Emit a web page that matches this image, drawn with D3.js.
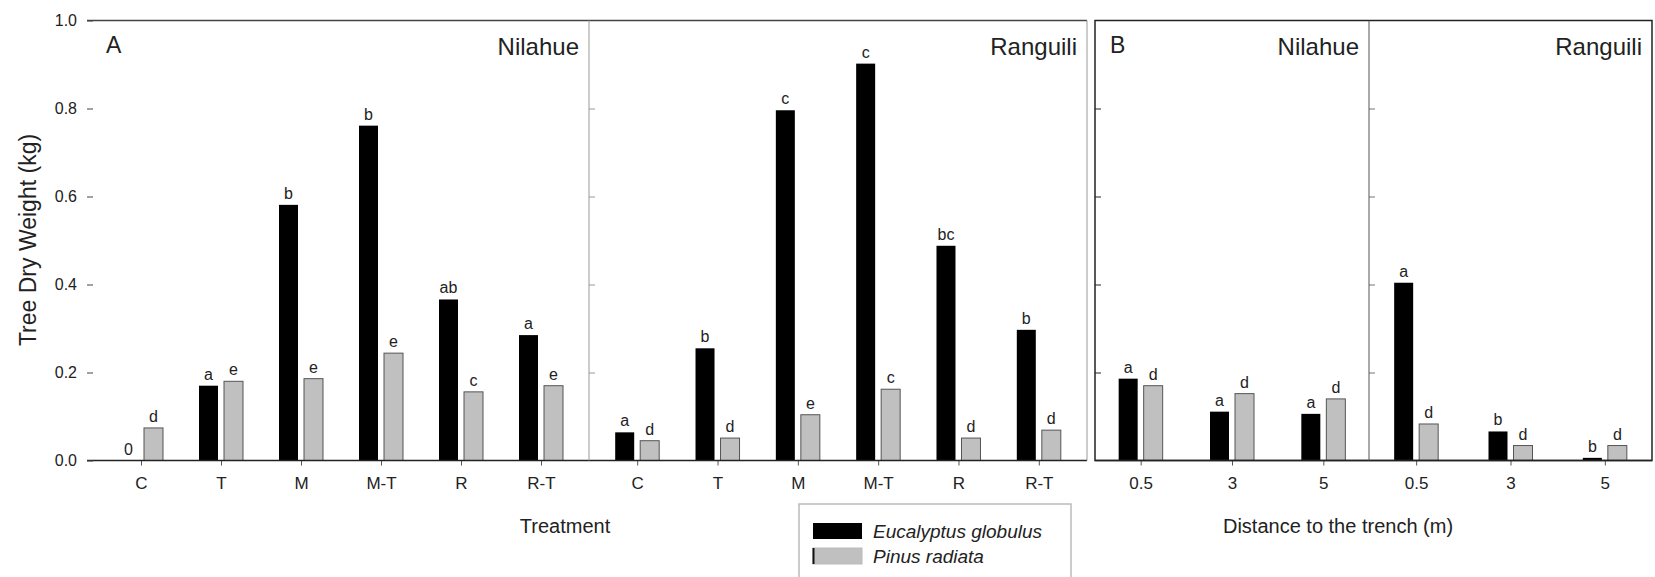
<!DOCTYPE html>
<html>
<head>
<meta charset="utf-8">
<script src="https://cdn.jsdelivr.net/npm/d3@7"></script>
<style>
    body { margin: 0; background: #fff; }
    text { font-family: "Liberation Sans", Arial, sans-serif; fill: #222; }
</style>
</head>
<body>
<div id="chart"></div>
<script>
// categories
const treatments = ["C", "T", "M", "M-T", "R", "R-T"];
const distances = ["0.5", "3", "5"];
const yTicks = [0, 0.2, 0.4, 0.6, 0.8, 1.0];

// panel A: tree dry weight (kg) by treatment
const eucTreatNilahue = [0, 0.170, 0.581, 0.761, 0.366, 0.285];
const pinTreatNilahue = [0.074, 0.180, 0.186, 0.244, 0.156, 0.170];
const eucTreatRanguili = [0.064, 0.255, 0.796, 0.902, 0.488, 0.297];
const pinTreatRanguili = [0.045, 0.051, 0.104, 0.162, 0.051, 0.069];

const eucTreatNilahueLetters = ["0", "a", "b", "b", "ab", "a"];
const pinTreatNilahueLetters = ["d", "e", "e", "e", "c", "e"];
const eucTreatRanguiliLetters = ["a", "b", "c", "c", "bc", "b"];
const pinTreatRanguiliLetters = ["d", "d", "e", "c", "d", "d"];

// panel B: tree dry weight (kg) by distance to the trench
const eucDistNilahue = [0.186, 0.111, 0.106];
const pinDistNilahue = [0.170, 0.152, 0.140];
const eucDistRanguili = [0.404, 0.066, 0.006];
const pinDistRanguili = [0.083, 0.034, 0.034];

const eucDistNilahueLetters = ["a", "a", "a"];
const pinDistNilahueLetters = ["d", "d", "d"];
const eucDistRanguiliLetters = ["a", "b", "b"];
const pinDistRanguiliLetters = ["d", "d", "d"];

const species = ["Eucalyptus globulus", "Pinus radiata"];
const colors = ["#000000", "#c0c0c0"];

const W = 1655, H = 577;
const yTop = 20.5, yBase = 460.5;

const svg = d3.select("#chart").append("svg")
    .attr("width", W)
    .attr("height", H);

const y = d3.scaleLinear().domain([0, 1]).range([yBase, yTop]);

// one entry per sub-panel
const panels = [
    {x0: 93, x1: 589, cats: treatments, euc: eucTreatNilahue, pin: pinTreatNilahue,
        eL: eucTreatNilahueLetters, pL: pinTreatNilahueLetters, pad: 0.6, site: "Nilahue"},
    {x0: 589, x1: 1087, cats: treatments, euc: eucTreatRanguili, pin: pinTreatRanguili,
        eL: eucTreatRanguiliLetters, pL: pinTreatRanguiliLetters, pad: 0.6, site: "Ranguili"},
    {x0: 1095, x1: 1369, cats: distances, euc: eucDistNilahue, pin: pinDistNilahue,
        eL: eucDistNilahueLetters, pL: pinDistNilahueLetters, pad: 0.5, site: "Nilahue"},
    {x0: 1369, x1: 1652, cats: distances, euc: eucDistRanguili, pin: pinDistRanguili,
        eL: eucDistRanguiliLetters, pL: pinDistRanguiliLetters, pad: 0.5, site: "Ranguili"}
];

const bw = 19, gap = 6;

panels.forEach((p, i) => {
    let x = d3.scalePoint().domain(p.cats).range([p.x0, p.x1]).padding(p.pad);
    let g = svg.append("g");

    // bars
    g.selectAll(".euc").data(p.cats).enter().append("rect")
        .attr("x", d => x(d) - gap / 2 - bw)
        .attr("y", (d, j) => y(p.euc[j]))
        .attr("width", bw)
        .attr("height", (d, j) => yBase - y(p.euc[j]))
        .attr("fill", colors[0]);

    g.selectAll(".pin").data(p.cats).enter().append("rect")
        .attr("x", d => x(d) + gap / 2)
        .attr("y", (d, j) => y(p.pin[j]))
        .attr("width", bw)
        .attr("height", (d, j) => yBase - y(p.pin[j]))
        .attr("fill", colors[1])
        .attr("stroke", "#555")
        .attr("stroke-width", 1);

    // significance letters
    g.selectAll(".el").data(p.cats).enter().append("text")
        .attr("x", d => x(d) - gap / 2 - bw / 2)
        .attr("y", (d, j) => y(p.euc[j]) - 6)
        .attr("text-anchor", "middle")
        .attr("font-size", 16)
        .text((d, j) => p.eL[j]);

    g.selectAll(".pl").data(p.cats).enter().append("text")
        .attr("x", d => x(d) + gap / 2 + bw / 2)
        .attr("y", (d, j) => y(p.pin[j]) - 6)
        .attr("text-anchor", "middle")
        .attr("font-size", 16)
        .text((d, j) => p.pL[j]);

    // x axis with ticks pointing down
    let xAxis = d3.axisBottom(x).tickSize(5).tickPadding(11);
    let ax = g.append("g")
        .attr("transform", `translate(0, ${yBase})`)
        .call(xAxis);
    ax.select(".domain").remove();
    ax.selectAll(".tick line").attr("stroke", "#555");
    ax.selectAll(".tick text")
        .attr("font-size", 17)
        .attr("fill", "#333")
        .style("font-family", "Liberation Sans, Arial, sans-serif");

    // baseline
    g.append("line")
        .attr("x1", i === 0 ? 87 : p.x0).attr("x2", p.x1)
        .attr("y1", yBase).attr("y2", yBase)
        .attr("stroke", "#222").attr("stroke-width", 1.5);

    // site title
    g.append("text")
        .attr("x", p.x1 - 10)
        .attr("y", 55)
        .attr("text-anchor", "end")
        .attr("font-size", 24)
        .text(p.site);
});

// panel A frame
svg.append("line").attr("x1", 87).attr("x2", 1087).attr("y1", yTop).attr("y2", yTop)
    .attr("stroke", "#444").attr("stroke-width", 1.5);
svg.append("line").attr("x1", 589).attr("x2", 589).attr("y1", yTop).attr("y2", yBase)
    .attr("stroke", "#999").attr("stroke-width", 1);
svg.append("line").attr("x1", 1087).attr("x2", 1087).attr("y1", yTop).attr("y2", yBase)
    .attr("stroke", "#999").attr("stroke-width", 1);

// panel A y axis (ticks and labels, no spine)
let yAxis = d3.axisLeft(y).tickValues(yTicks).tickSize(6).tickPadding(10)
    .tickFormat(d3.format(".1f"));
let ya = svg.append("g").attr("transform", "translate(93, 0)").call(yAxis);
ya.select(".domain").remove();
ya.selectAll(".tick line").attr("stroke", "#444");
ya.selectAll(".tick text").attr("font-size", 16).attr("fill", "#333")
    .style("font-family", "Liberation Sans, Arial, sans-serif");

// inner ticks on the dividers and panel B axis
const innerTicks = yTicks.filter(t => t > 0 && t < 1);
[[589, "#999"], [1095, "#222"], [1369, "#777"]].forEach(([xx, c]) => {
    let a = svg.append("g").attr("transform", `translate(${xx}, 0)`)
        .call(d3.axisRight(y).tickValues(innerTicks).tickSize(6).tickFormat(""));
    a.select(".domain").remove();
    a.selectAll(".tick line").attr("stroke", c);
});

// panel B frame
svg.append("rect")
    .attr("x", 1095).attr("y", yTop)
    .attr("width", 1652 - 1095).attr("height", yBase - yTop)
    .attr("fill", "none").attr("stroke", "#222").attr("stroke-width", 1.5);
svg.append("line").attr("x1", 1369).attr("x2", 1369).attr("y1", yTop).attr("y2", yBase)
    .attr("stroke", "#555").attr("stroke-width", 1);

// panel letters
svg.append("text").attr("x", 106).attr("y", 53).attr("font-size", 23).text("A");
svg.append("text").attr("x", 1110).attr("y", 53).attr("font-size", 23).text("B");

// axis titles
svg.append("text")
    .attr("transform", "translate(36, 240) rotate(-90)")
    .attr("text-anchor", "middle")
    .attr("font-size", 23)
    .attr("fill", "#333")
    .text("Tree Dry Weight  (kg)");

svg.append("text")
    .attr("x", 565).attr("y", 533)
    .attr("text-anchor", "middle")
    .attr("font-size", 20)
    .attr("fill", "#333")
    .text("Treatment");

svg.append("text")
    .attr("x", 1338).attr("y", 533)
    .attr("text-anchor", "middle")
    .attr("font-size", 20)
    .attr("fill", "#333")
    .text("Distance to the trench (m)");

// legend
let legend = svg.append("g").attr("transform", "translate(799, 504)");
legend.append("rect")
    .attr("x", 0).attr("y", 0)
    .attr("width", 272).attr("height", 90)
    .attr("fill", "#fff").attr("stroke", "#bbb").attr("stroke-width", 1.5);
species.forEach((s, i) => {
    legend.append("rect")
        .attr("x", 14).attr("y", 19 + i * 25)
        .attr("width", 49).attr("height", 16)
        .attr("fill", colors[i])
        .attr("stroke", i === 1 ? "#bbb" : "none");
    if (i === 1) {
        legend.append("line")
            .attr("x1", 14.5).attr("x2", 14.5)
            .attr("y1", 19 + i * 25).attr("y2", 35 + i * 25)
            .attr("stroke", "#111").attr("stroke-width", 2);
    }
    legend.append("text")
        .attr("x", 74).attr("y", 34 + i * 25)
        .attr("font-size", 19)
        .attr("font-style", "italic")
        .attr("fill", "#333")
        .text(s);
});
</script>
</body>
</html>
